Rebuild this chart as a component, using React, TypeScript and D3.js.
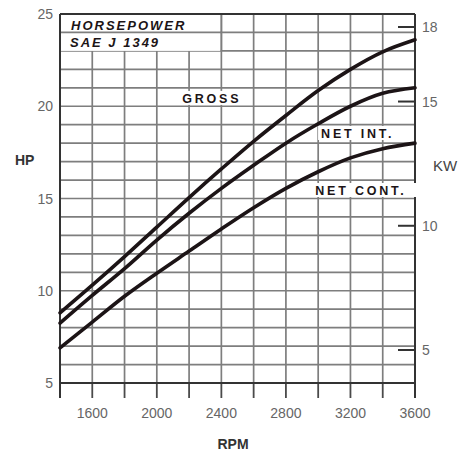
import * as d3 from "d3";

// engine speed (RPM) and horsepower curves
const rpm = [1400, 1600, 1800, 2000, 2200, 2400, 2600, 2800, 3000, 3200, 3400, 3600];
const gross = [8.8, 10.3, 11.85, 13.45, 15.05, 16.6, 18.1, 19.5, 20.85, 22.0, 22.95, 23.6];
const netInt = [8.25, 9.75, 11.2, 12.75, 14.2, 15.55, 16.8, 18.0, 19.05, 20.0, 20.7, 21.0];
const netCont = [6.9, 8.3, 9.7, 10.95, 12.15, 13.35, 14.5, 15.55, 16.45, 17.2, 17.7, 18.0];

const rpmTicks = [1600, 2000, 2400, 2800, 3200, 3600];
const rpmGrid = d3.range(1400, 3601, 200);
const hpTicks = [5, 10, 15, 20, 25];
const hpGrid = d3.range(5, 26, 1);
const kwTicks = [5, 10, 15, 18];

const font = "'Liberation Sans', Arial, sans-serif";

export default function App() {
  const width = 472;
  const height = 455;
  const left = 60, right = 415, top = 14, bottom = 383;

  const x = d3.scaleLinear().domain([1400, 3600]).range([left, right]);
  const y = d3.scaleLinear().domain([5, 25]).range([bottom, top]);
  // kW scale as printed on the right edge
  const yKw = d3.scaleLinear().domain([5, 18]).range([350, 27]);

  const line = d3.line<number>()
    .x((_, i) => x(rpm[i]))
    .y((d) => y(d))
    .curve(d3.curveCatmullRom.alpha(0.5));

  const series = [
    { name: "GROSS", values: gross, at: [2157, 20.18] },
    { name: "NET INT.", values: netInt, at: [3018, 18.28] },
    { name: "NET CONT.", values: netCont, at: [2982, 15.19] },
  ];

  const gridColor = "#7e7e7e";
  const ink = "#1c1416";

  return (
    <svg width={width} height={height} style={{ position: "absolute", left: 0, top: 0, background: "#fff" }}>
      {/* grid */}
      {hpGrid.map((h) => (
        <line key={"h" + h} x1={left} x2={right} y1={y(h)} y2={y(h)} stroke={gridColor} strokeWidth={1.7} />
      ))}
      {rpmGrid.map((r) => (
        <g key={"v" + r}>
          <line x1={x(r)} x2={x(r)} y1={top} y2={bottom} stroke={gridColor} strokeWidth={1.7} />
          <line x1={x(r)} x2={x(r)} y1={bottom} y2={bottom + 15} stroke="#4a4a4a" strokeWidth={1.8} />
        </g>
      ))}

      {/* title box */}
      <rect x={left + 1} y={top + 1} width={x(2400) - left - 2} height={y(23) - top - 1} fill="#fff" />
      <line x1={left} x2={x(2400)} y1={y(24)} y2={y(24)} stroke={gridColor} strokeWidth={1.7} />
      <line x1={x(2400)} x2={x(2400)} y1={top} y2={y(23)} stroke={gridColor} strokeWidth={1.7} />
      <g fontFamily={font} fontWeight="bold" fontStyle="italic" fontSize={13} fill={ink} letterSpacing={2}>
        <text x={71} y={30}>HORSEPOWER</text>
        <text x={70} y={47}>SAE J 1349</text>
      </g>

      {/* frame */}
      <line x1={left} x2={right} y1={top} y2={top} stroke="#333" strokeWidth={2} />
      <line x1={left} x2={right} y1={bottom} y2={bottom} stroke="#333" strokeWidth={2} />
      <line x1={left} x2={left} y1={top} y2={bottom + 15} stroke="#333" strokeWidth={2} />
      <line x1={right} x2={right} y1={top} y2={bottom + 15} stroke="#333" strokeWidth={2} />

      {/* kW ticks */}
      {kwTicks.map((k) => (
        <g key={"k" + k}>
          <line x1={right - 17} x2={right} y1={yKw(k)} y2={yKw(k)} stroke="#333" strokeWidth={2} />
          <text x={right + 7} y={yKw(k)} dominantBaseline="central" fontFamily={font} fontSize={14} fill="#666">
            {k}
          </text>
        </g>
      ))}

      {/* curves */}
      {series.map((s) => (
        <path key={s.name} d={line(s.values) ?? ""} fill="none" stroke={ink} strokeWidth={3.6} strokeLinecap="round" />
      ))}

      {/* curve labels */}
      {series.map((s) => {
        const w = s.name.length * 11.6;
        return (
          <g key={"l" + s.name}>
            <rect x={x(s.at[0]) - 3} y={y(s.at[1]) - 12} width={w} height={14} fill="#fff" />
            <text x={x(s.at[0])} y={y(s.at[1])} fontFamily={font} fontWeight="bold" fontSize={12.5} fill={ink} letterSpacing={2.8}>
              {s.name}
            </text>
          </g>
        );
      })}

      {/* HP axis labels */}
      {hpTicks.map((h) => (
        <text key={"hp" + h} x={53} y={y(h)} textAnchor="end" dominantBaseline="central" fontFamily={font} fontSize={14} fill="#666">
          {h}
        </text>
      ))}

      {/* RPM labels */}
      {rpmTicks.map((r) => (
        <text key={"r" + r} x={x(r)} y={418} textAnchor="middle" fontFamily={font} fontSize={14} fill="#666">
          {r}
        </text>
      ))}

      <text x={15} y={165} fontFamily={font} fontWeight="bold" fontSize={14} fill="#333">HP</text>
      <text x={433} y={171} fontFamily={font} fontSize={15} fill="#444">KW</text>
      <text x={233} y={449} textAnchor="middle" fontFamily={font} fontWeight="bold" fontSize={14} fill="#333">RPM</text>
    </svg>
  );
}
